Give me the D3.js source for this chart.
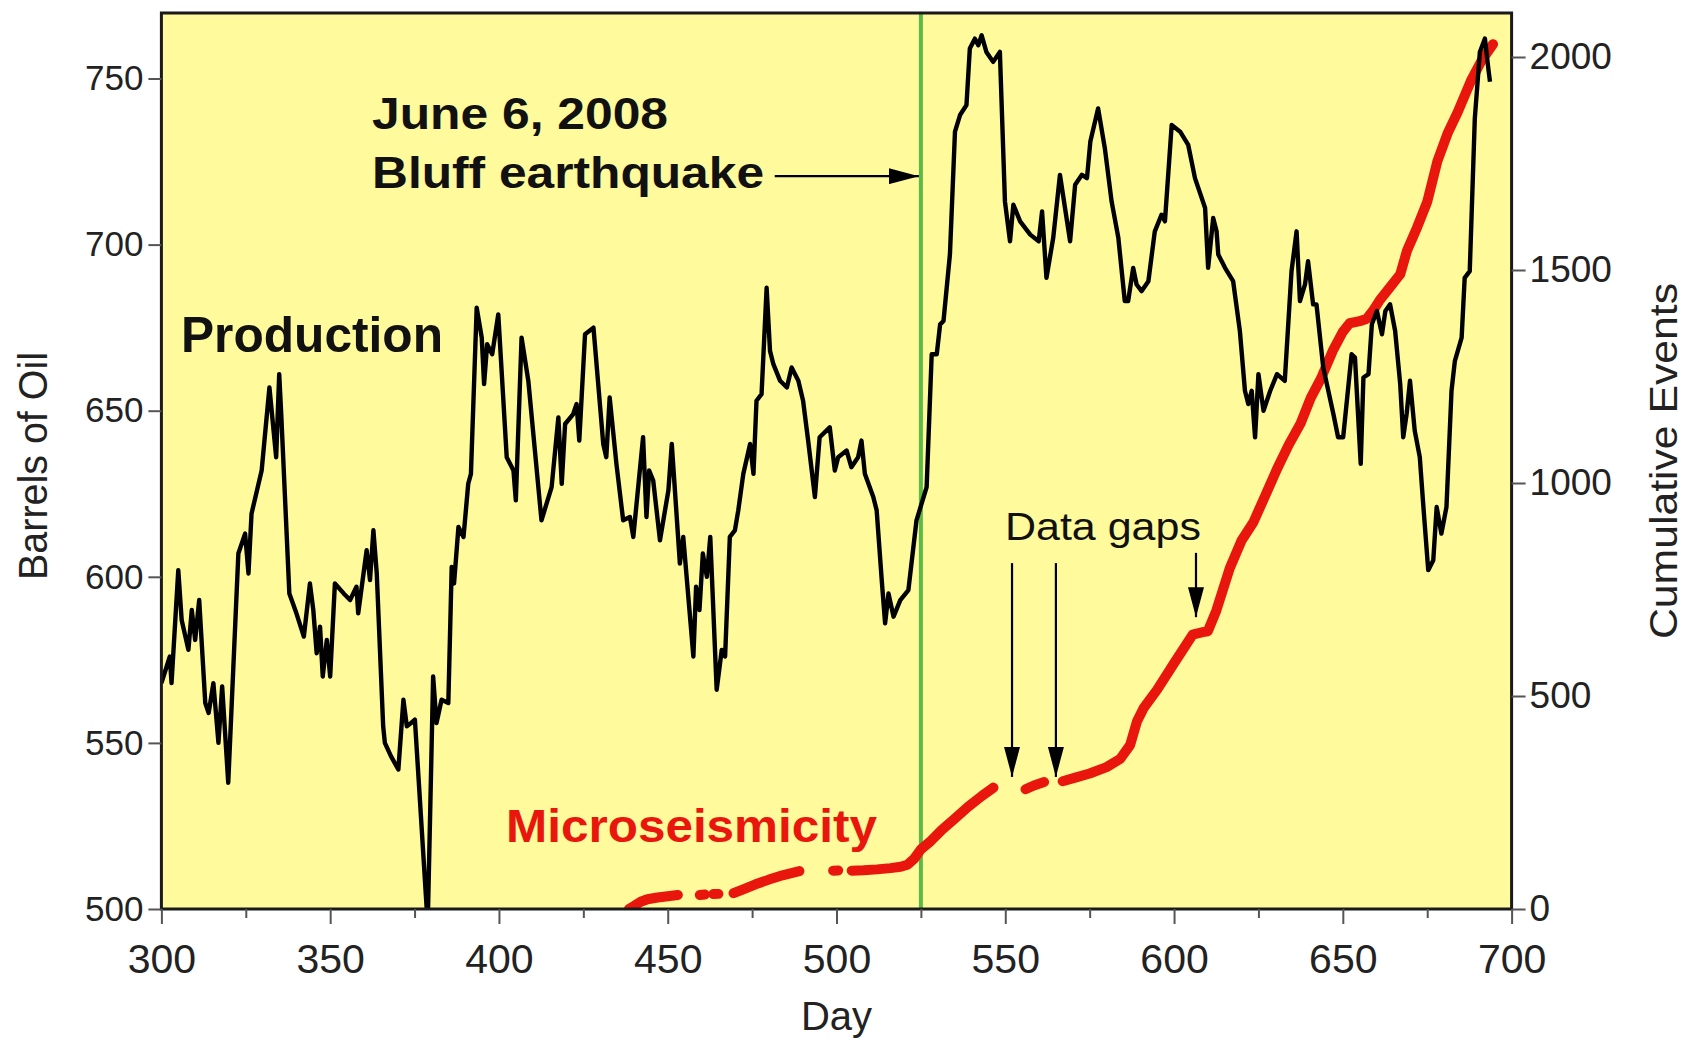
<!DOCTYPE html>
<html>
<head>
<meta charset="utf-8">
<script src="https://cdn.jsdelivr.net/npm/d3@7"></script>
<style>
  html, body { margin: 0; padding: 0; background: #ffffff; }
  svg { display: block; }
  text { font-family: "Liberation Sans", Arial, Helvetica, sans-serif; }
</style>
</head>
<body>
<svg id="chart" width="1687" height="1043"></svg>
<script>
// ---------------- DATA ----------------
const prodDays = [300,302.5,303,305,306,308,309,310,311.2,313,314,315.4,316.9,318,319.8,322.8,324.8,325.8,326.7,329.7,332,334,334.9,335.5,337.9,340,342.2,344,345,346,347,347.8,349,350,351.4,354,355.9,357.8,358.3,360.8,361.8,362.8,363.8,365.7,366.2,368,370.2,371.7,372.7,374,375.1,378.6,379,380.5,381.5,383,385,386,386.7,388,389.5,390.9,391.7,393.4,394.9,395.6,396.5,398,399.8,402.3,404.3,405,406.7,408.7,412.6,415.6,417.6,418.6,419.6,422,423,423.8,425.5,428,430.9,431.8,432.8,434.8,436.8,438.8,439.8,442.7,443.7,444.5,445.7,447.7,450.2,451.2,453.6,454.6,457.6,458.4,459.4,460.4,461.6,462.6,464.5,466,467,468.4,469.9,470.9,472.4,474.4,475.4,476.3,477.8,479.3,480.3,481.3,483.3,485.3,486.7,488.7,490.1,491.6,493.6,495,498,499.5,500.5,503,504.4,506.4,507.4,508.4,510.9,511.9,513.4,514.4,515.4,516.9,518.9,521.3,523.7,526.7,528.2,529.7,530.7,531.7,533.6,535.1,536.6,538.5,539.5,541,542,543,544.4,546.4,548.4,549.9,551.4,552.4,554.4,557.4,559.9,560.9,562.2,564.2,566.2,569.2,570.7,572.7,574.2,575.2,577.5,579.5,581.5,583.5,585.4,586.4,587.9,588.9,590.4,592.4,594.3,596.3,597.3,599.3,601.8,604.2,606.2,609.2,610.1,611.6,612.6,613.1,615.1,617.5,619.5,621,622,623,624,625,626.5,628.5,630.5,632.8,634.8,636.3,637.3,638.8,639.7,641.2,642.2,644.2,647.2,648.6,650.1,652.6,653.6,655.3,656.1,657.6,658.6,660.1,661.6,662.6,664,665.5,667,667.9,668.9,669.9,671.3,672.8,673.8,675.3,676.8,677.8,679.2,680.7,682.2,683.2,685.2,686.1,687.6,689.1,690.6,692.1,693.1,693.6];
const prodBarrels = [568,576,568,602,587,578,590,581,593,562,559,568,550,567,538,607,613,601,619,632,657,636,661,649,595,589,582,598,590,577,585,570,581,570,598,595,593,597,589,608,599,614,601,555,550,546,542,563,555,556,557,500,500,570,556,563,562,603,598,615,612,628,631,681,672,658,670,667,679,636,632,623,672,659,617,627,648,628,646,649,652,641,673,675,640,636,654,634,617,618,612,642,618,632,629,611,626,640,604,612,576,597,590,607,600,612,566,578,576,612,614,620,631,640,631,653,655,687,668,664,659,657,663,659,653,641,624,642,645,632,636,638,633,636,641,631,624,620,599,586,595,588,593,596,617,627,667,667,676,677,697,734,739,742,759,762,760,763,758,755,758,713,701,712,707,703,701,710,690,702,721,701,718,721,720,731,741,729,713,702,683,683,693,688,686,689,704,709,707,736,734,730,720,711,693,708,704,697,693,689,674,656,652,656,642,661,650,656,661,659,692,704,683,688,695,682,682,663,649,642,642,667,666,634,660,661,676,680,673,680,682,674,658,642,649,659,644,636,622,602,605,621,613,621,656,665,672,690,692,738,758,762,753,749];

// cumulative microseismic events (null = data gap)
const microDays   = [438.5,440,442,444,447,450,453,456,459.5,461,462,463.5,465,467,469.5,472,476,480,484,489,494,499,500.5,502,504.5,508,512,516,519,521,523,525,528,531,535,539,543,546.5,551,556,558.5,561.5,564,567,571,575,580,584,587,589,591,595,600,605.5,608.5,610,612.5,616.5,620,623.5,627,630.5,634,637.5,640.5,643.5,647,650,652,655,657,659,661,664,667,669,672,675,678,681,684,688,691,694.5];
const microEvents = [0,7,17,23,27,30,33,null,33,34,null,35,35.5,null,37,45,58,69,79,89,null,90,90.5,null,90,91,93,96,99,104,118,140,160,184,212,240,265,285,null,281,290,298,null,300,309,318,333,352,385,440,472,515,577,644,650,652,700,800,865,908,970,1033,1090,1140,1200,1245,1310,1355,1375,1380,1385,1405,1430,1460,1490,1545,1600,1660,1755,1820,1870,1945,1990,2030];

const xTicks      = [300,350,400,450,500,550,600,650,700];
const xMinorTicks = [325,375,425,475,525,575,625,675];
const leftTicks   = [500,550,600,650,700,750];
const rightTicks  = [0,500,1000,1500,2000];

const quakeDay = 525;
const gapDays  = [552,565,606.5];

// ---------------- LAYOUT ----------------
const svg = d3.select("#chart");
const L = 161.4, R = 1511.6, T = 13, B = 909;

const x  = d3.scaleLinear().domain([300,700]).range([L,R]);
const yL = d3.scaleLinear().domain([500,750]).range([B,78.5]);
const yR = d3.scaleLinear().domain([0,2000]).range([B,57]);

const defs = svg.append("defs");
defs.append("clipPath").attr("id","plotclip")
  .append("rect").attr("x",L).attr("y",T).attr("width",R-L).attr("height",B-T);
defs.append("marker").attr("id","ahead").attr("viewBox","0 0 30 16")
  .attr("refX",30).attr("refY",8).attr("markerWidth",30).attr("markerHeight",16)
  .attr("markerUnits","userSpaceOnUse").attr("orient","auto")
  .append("path").attr("d","M0,0 L30,8 L0,16 Z").attr("fill","#000");

// background
svg.append("rect").attr("x",L).attr("y",T).attr("width",R-L).attr("height",B-T)
  .attr("fill","#fffa9b");

const plot = svg.append("g").attr("clip-path","url(#plotclip)");

// earthquake line
plot.append("line")
  .attr("x1",x(quakeDay)).attr("x2",x(quakeDay)).attr("y1",T).attr("y2",B)
  .attr("stroke","#5cb947").attr("stroke-width",4);

// microseismicity
const microData = microDays.map((d,i)=>({d, v: microEvents[i]}));
plot.append("path").datum(microData)
  .attr("d", d3.line().defined(p=>p.v!==null).x(p=>x(p.d)).y(p=>yR(p.v)).curve(d3.curveLinear))
  .attr("fill","none").attr("stroke","#e8160c").attr("stroke-width",10)
  .attr("stroke-linecap","round").attr("stroke-linejoin","round");

// production
const prodData = prodDays.map((d,i)=>({d, v: prodBarrels[i]}));
plot.append("path").datum(prodData)
  .attr("d", d3.line().x(p=>x(p.d)).y(p=>yL(p.v)))
  .attr("fill","none").attr("stroke","#000").attr("stroke-width",4.4)
  .attr("stroke-linejoin","round");

// frame
svg.append("rect").attr("x",L).attr("y",T).attr("width",R-L).attr("height",B-T)
  .attr("fill","none").attr("stroke","#1a1a1a").attr("stroke-width",3);

// ---------------- AXES ----------------
function styleAxis(g, size){
  g.select(".domain").remove();
  g.selectAll(".tick line").attr("stroke","#555").attr("stroke-width",2);
  g.selectAll(".tick text").attr("fill","#222").style("font-family",'"Liberation Sans", Arial, sans-serif')
    .style("font-size", size+"px");
}
svg.append("g").attr("transform",`translate(${L},0)`)
  .call(d3.axisLeft(yL).tickValues(leftTicks).tickSize(13).tickPadding(5).tickFormat(d3.format("d")))
  .call(g=>styleAxis(g,35));
svg.append("g").attr("transform",`translate(${R},0)`)
  .call(d3.axisRight(yR).tickValues(rightTicks).tickSize(14).tickPadding(4).tickFormat(d3.format("d")))
  .call(g=>styleAxis(g,37));
svg.append("g").attr("transform",`translate(0,${B})`)
  .call(d3.axisBottom(x).tickValues(xTicks).tickSize(15).tickPadding(20).tickFormat(d3.format("d")))
  .call(g=>styleAxis(g,41));
svg.append("g").attr("transform",`translate(0,${B})`)
  .call(d3.axisBottom(x).tickValues(xMinorTicks).tickSize(9).tickFormat(""))
  .call(g=>styleAxis(g,41));

// axis titles
svg.append("text").attr("transform","translate(47,466) rotate(-90)")
  .attr("text-anchor","middle").style("font-size","40px").attr("fill","#222")
  .attr("textLength",228).attr("lengthAdjust","spacingAndGlyphs").text("Barrels of Oil");
svg.append("text").attr("transform","translate(1677,461) rotate(-90)")
  .attr("text-anchor","middle").style("font-size","38px").attr("fill","#222")
  .attr("textLength",356).attr("lengthAdjust","spacingAndGlyphs").text("Cumulative Events");
svg.append("text").attr("x",(L+R)/2).attr("y",1030)
  .attr("text-anchor","middle").style("font-size","40px").attr("fill","#222").text("Day");

// ---------------- ANNOTATIONS ----------------
const ann = svg.append("g");
ann.append("text").attr("x",x(362.4)).attr("y",yL(734.8))
  .style("font-size","44px").style("font-weight","bold").attr("fill","#111")
  .attr("textLength",296).attr("lengthAdjust","spacingAndGlyphs").text("June 6, 2008");
ann.append("text").attr("x",x(362.4)).attr("y",yL(717.0))
  .style("font-size","44px").style("font-weight","bold").attr("fill","#111")
  .attr("textLength",392).attr("lengthAdjust","spacingAndGlyphs").text("Bluff earthquake");
ann.append("line").attr("x1",x(481.7)).attr("x2",x(quakeDay)-2)
  .attr("y1",yL(720.6)).attr("y2",yL(720.6))
  .attr("stroke","#000").attr("stroke-width",2.2).attr("marker-end","url(#ahead)");

ann.append("text").attr("x",x(305.8)).attr("y",yL(667.7))
  .style("font-size","50px").style("font-weight","bold").attr("fill","#111")
  .attr("textLength",262).attr("lengthAdjust","spacingAndGlyphs").text("Production");

ann.append("text").attr("x",x(402.1)).attr("y",yL(520.2))
  .style("font-size","46px").style("font-weight","bold").attr("fill","#e8160c")
  .attr("textLength",371).attr("lengthAdjust","spacingAndGlyphs").text("Microseismicity");

ann.append("text").attr("x",x(549.9)).attr("y",yR(866))
  .style("font-size","38px").attr("fill","#111")
  .attr("textLength",196).attr("lengthAdjust","spacingAndGlyphs").text("Data gaps");

const gapArrows = [[gapDays[0],812,310],[gapDays[1],812,310],[gapDays[2],836,685]];
gapArrows.forEach(([d,from,to])=>{
  ann.append("line").attr("x1",x(d)).attr("x2",x(d)).attr("y1",yR(from)).attr("y2",yR(to))
    .attr("stroke","#000").attr("stroke-width",2.2).attr("marker-end","url(#ahead)");
});
</script>
</body>
</html>
